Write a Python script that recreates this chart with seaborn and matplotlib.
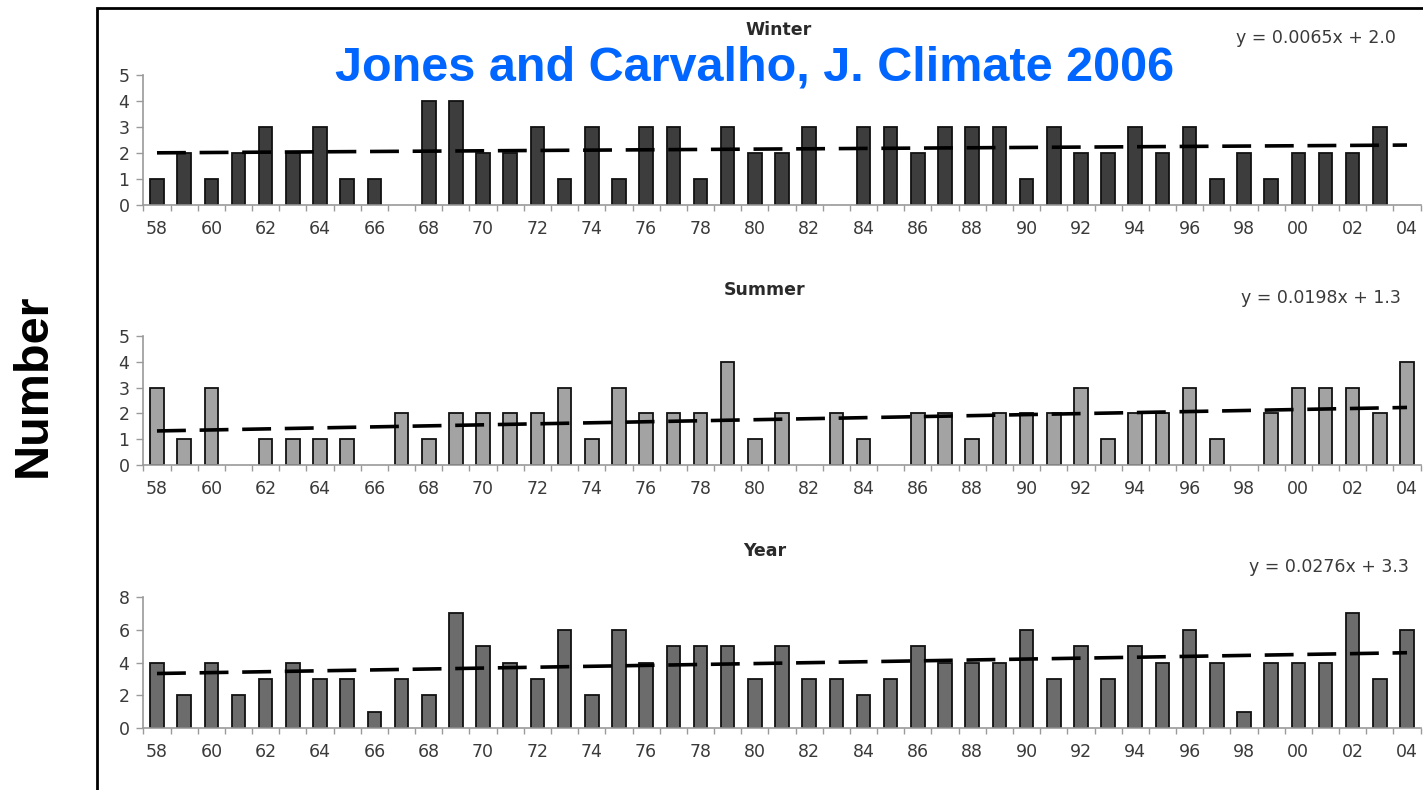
import numpy as np
import pandas as pd
import matplotlib
matplotlib.use("Agg")
import matplotlib.pyplot as plt
from matplotlib.patches import Rectangle
import seaborn as sns

# Storm counts per year, 1958-2004
years = list(range(1958, 2005))
year_labels = [f"{y % 100:02d}" for y in years]

winter = [1, 2, 1, 2, 3, 2, 3, 1, 1, 0, 4, 4, 2, 2, 3, 1, 3, 1, 3, 3, 1, 3, 2, 2,
          3, 0, 3, 3, 2, 3, 3, 3, 1, 3, 2, 2, 3, 2, 3, 1, 2, 1, 2, 2, 2, 3, 0]
summer = [3, 1, 3, 0, 1, 1, 1, 1, 0, 2, 1, 2, 2, 2, 2, 3, 1, 3, 2, 2, 2, 4, 1, 2,
          0, 2, 1, 0, 2, 2, 1, 2, 2, 2, 3, 1, 2, 2, 3, 1, 0, 2, 3, 3, 3, 2, 4]
annual = [4, 2, 4, 2, 3, 4, 3, 3, 1, 3, 2, 7, 5, 4, 3, 6, 2, 6, 4, 5, 5, 5, 3, 5,
          3, 3, 2, 3, 5, 4, 4, 4, 6, 3, 5, 3, 5, 4, 6, 4, 1, 4, 4, 4, 7, 3, 6]

panel_titles = ["Winter", "Summer", "Year"]
trend_slopes = [0.0065, 0.0198, 0.0276]
trend_intercepts = [2.0, 1.3, 3.3]
y_max = [5, 5, 8]
y_step = [1, 1, 2]

sns.set_style("white")
plt.rcParams["font.family"] = ["DejaVu Sans"]

W, H = 1423, 790
fig = plt.figure(figsize=(W / 100, H / 100), dpi=100)


def fx(px):
    return px / W


def fy(py):
    return 1 - py / H


# axes boxes in pixels: left, right, y of zero line, y of top tick
boxes = [(143.4, 1420.6, 205, 75), (143.4, 1420.6, 465, 336), (143.4, 1420.6, 728, 597)]
bar_colors = ["#3d3d3d", "#a3a3a3", "#6c6c6c"]
title_pos = [(779, 30), (765, 290), (765, 551)]
eq_pos = [(1316, 38), (1321, 298), (1329, 567)]

series = [winter, summer, annual]
n = len(years)
xs = np.arange(n)

for i, vals in enumerate(series):
    l, r, y0, y1 = boxes[i]
    ax = fig.add_axes([fx(l), fy(y0), (r - l) / W, (y0 - y1) / H])
    df = pd.DataFrame({"year": year_labels, "count": vals})
    sns.barplot(data=df, x="year", y="count", order=year_labels, color=bar_colors[i],
                saturation=1, edgecolor="#111111", linewidth=1.3, width=0.5,
                errorbar=None, ax=ax)
    # years with no events get no outline either
    for bar in ax.patches:
        if bar.get_height() == 0:
            bar.set_visible(False)
    trend = trend_intercepts[i] + trend_slopes[i] * (xs + 1)
    ax.plot(xs, trend, color="black", linewidth=2.6, linestyle=(0, (8.0, 3.8)),
            solid_capstyle="butt", dash_capstyle="butt", zorder=5)

    ax.set_xlim(-0.5, n - 0.5)
    ax.set_ylim(0, y_max[i])
    ax.set_yticks(np.arange(0, y_max[i] + 1, y_step[i]))
    ax.set_xticks(xs[::2])
    ax.set_xticklabels(year_labels[::2])
    ax.set_xticks(np.arange(-0.5, n, 1.0), minor=True)
    ax.tick_params(axis="x", which="major", length=0, pad=11, labelsize=12.5,
                   labelcolor="#3a3a3a")
    ax.tick_params(axis="x", which="minor", length=4, width=1, color="#9a9a9a",
                   direction="out", bottom=True)
    ax.tick_params(axis="y", which="major", length=5, width=1, color="#9a9a9a",
                   direction="out", left=True, pad=5, labelsize=12.5,
                   labelcolor="#3a3a3a")
    ax.set_xlabel("")
    ax.set_ylabel("")
    for side in ["top", "right"]:
        ax.spines[side].set_visible(False)
    for side in ["left", "bottom"]:
        ax.spines[side].set_color("#9a9a9a")
        ax.spines[side].set_linewidth(1.2)
    ax.patch.set_alpha(0)

    tx, ty = title_pos[i]
    fig.text(fx(tx), fy(ty), panel_titles[i], ha="center", va="center",
             fontsize=12.5, fontweight="bold", color="#2a2a2a")
    ex, ey = eq_pos[i]
    fig.text(fx(ex), fy(ey),
             f"y = {trend_slopes[i]:.4f}x + {trend_intercepts[i]:.1f}",
             ha="center", va="center", fontsize=12.5, color="#3a3a3a")

# outer frame
fig.add_artist(Rectangle((fx(97), -0.2), 1.2, fy(8) + 0.2, transform=fig.transFigure,
                         fill=False, edgecolor="black", linewidth=2))

fig.text(fx(33), fy(385), "Number", rotation=90, ha="center", va="center",
         fontsize=35, fontweight="bold", family=["Liberation Sans", "DejaVu Sans"],
         color="black")

fig.text(fx(755), fy(68), "Jones and Carvalho, J. Climate 2006", ha="center",
         va="center", fontsize=35, fontweight="bold",
         family=["Liberation Sans", "DejaVu Sans"], color="#0066ff", zorder=10)

fig.savefig("out.png", dpi=100)
